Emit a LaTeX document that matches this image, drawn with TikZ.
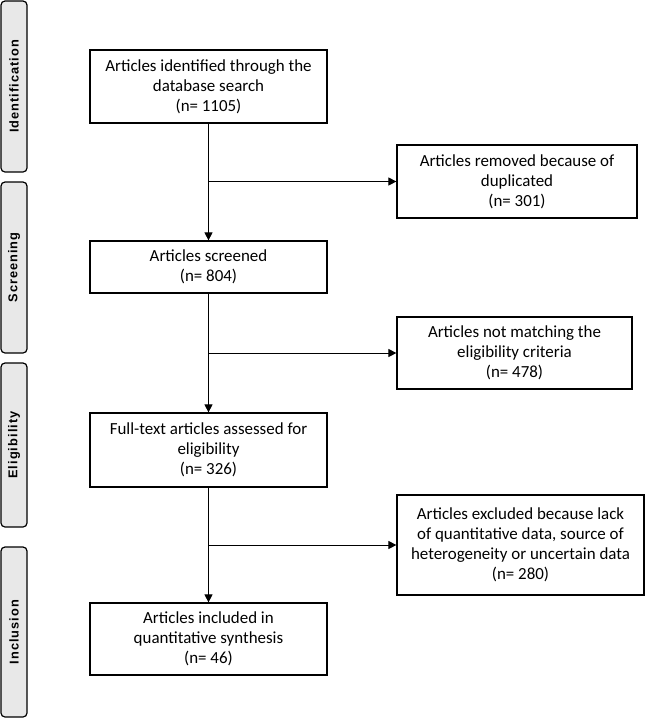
\documentclass[tikz,border=0pt]{standalone}
\usepackage{fontspec}
\setmainfont{Carlito}
\newfontfamily\sidefont[LetterSpace=8]{Liberation Sans}
\usetikzlibrary{arrows.meta}
\begin{document}
\begin{tikzpicture}[x=0.75pt,y=-0.75pt,
  box/.style={draw=black, line width=0.9pt, fill=white, align=center, inner sep=2pt,
    font=\fontsize{12.7pt}{15pt}\selectfont},
  sidebar/.style={draw=black, line width=0.9pt, fill=black!9, rounded corners=3pt,
    minimum height=26*0.75pt, rotate=90, inner sep=0pt,
    font=\sidefont\bfseries\fontsize{9.6pt}{11pt}\selectfont},
  arr/.style={line width=0.7pt, -{Triangle[length=6pt,width=6pt]}},
  ln/.style={line width=0.7pt}]
\useasboundingbox (0,0) rectangle (646,719);
% side bars
\node[sidebar, minimum width=171*0.75pt] (sid) at (14,86.5) {Identification};
\node[sidebar, minimum width=171*0.75pt] (sscr) at (14,267.5) {Screening};
\node[sidebar, minimum width=164*0.75pt] (selig) at (14,445) {Eligibility};
\node[sidebar, minimum width=170*0.75pt] (sinc) at (14,632) {Inclusion};
% boxes
\node[box, minimum width=237*0.75pt, minimum height=73*0.75pt] (b1) at (208.5,86.5)
  {Articles identified through the\\database search\\(n= 1105)};
\node[box, minimum width=240*0.75pt, minimum height=73*0.75pt] (dup) at (517,181.5)
  {Articles removed because of\\duplicated\\(n= 301)};
\node[box, minimum width=237*0.75pt, minimum height=52*0.75pt] (scr) at (208.5,267)
  {Articles screened\\(n= 804)};
\node[box, minimum width=235*0.75pt, minimum height=72*0.75pt] (nm) at (514.5,353)
  {Articles not matching the\\eligibility criteria\\(n= 478)};
\node[box, minimum width=237*0.75pt, minimum height=74*0.75pt] (ft) at (208.5,450)
  {Full-text articles assessed for\\eligibility\\(n= 326)};
\node[box, minimum width=247*0.75pt, minimum height=100*0.75pt] (ex) at (520.5,545)
  {Articles excluded because lack\\of quantitative data, source of\\heterogeneity or uncertain data\\(n= 280)};
\node[box, minimum width=237*0.75pt, minimum height=72*0.75pt] (inc) at (208.5,639)
  {Articles included in\\quantitative synthesis\\(n= 46)};
% connectors
\draw[arr] (b1.south) -- (scr.north);
\draw[arr] (b1.south |- dup.west) -- (dup.west);
\draw[arr] (scr.south) -- (ft.north);
\draw[arr] (scr.south |- nm.west) -- (nm.west);
\draw[arr] (ft.south) -- (inc.north);
\draw[arr] (ft.south |- ex.west) -- (ex.west);
\end{tikzpicture}
\end{document}
